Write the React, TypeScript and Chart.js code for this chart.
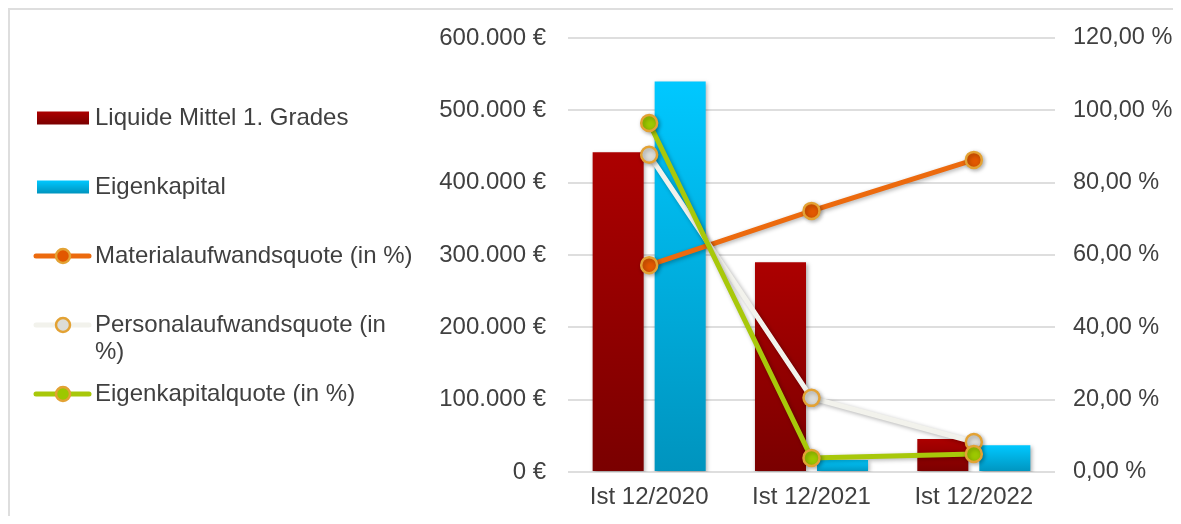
import React, { useEffect, useRef } from 'react';
import { Chart, registerables } from 'chart.js';

Chart.register(...registerables);

// ---- data ----
const categories = ['Ist 12/2020', 'Ist 12/2021', 'Ist 12/2022'];
const liquideMittel = [442000, 290000, 45500];
const eigenkapital = [540000, 16500, 37000];
const materialQuote = [57.2, 72.2, 86.3];
const personalQuote = [87.7, 20.5, 8.3];
const eigenkapitalQuote = [96.5, 3.9, 5.0];
const seriesLabels = [
  'Liquide Mittel 1. Grades',
  'Eigenkapital',
  'Materialaufwandsquote (in %)',
  'Personalaufwandsquote (in %)',
  'Eigenkapitalquote (in %)',
];
const leftTickValues = [0, 100000, 200000, 300000, 400000, 500000, 600000];
const rightTickValues = [0, 20, 40, 60, 80, 100, 120];

// ---- styles ----
const FONT = '"Liberation Sans", Arial, sans-serif';
const FS = 24;
const TEXT = '#404040';
const RED_TOP = '#AC0000';
const RED_BOT = '#7A0000';
const BLUE_TOP = '#00C8FF';
const BLUE_BOT = '#0094BE';
const ORANGE = '#EC6A0E';
const ORANGE_PT = '#E25800';
const WHITE = '#F2F2EC';
const WHITE_PT = '#DCDCD8';
const GREEN = '#A8C80A';
const GREEN_PT = '#9CC800';
const GOLD = '#E3A234';

const W = 1163;
const H = 506;

function fmtEuro(v: number): string {
  const s = Math.round(v).toString().replace(/\B(?=(\d{3})+(?!\d))/g, '.');
  return s + ' €';
}
function fmtPct(v: number): string {
  return v.toFixed(2).replace('.', ',') + ' %';
}

function barGradient(top: string, bottom: string) {
  return (ctx: any) => {
    const chart = ctx.chart;
    if (!chart.chartArea || ctx.type !== 'data') return top;
    const ys = chart.scales.y;
    const yTop = ys.getPixelForValue(ctx.raw);
    const yBot = ys.getPixelForValue(0);
    if (!isFinite(yTop) || !isFinite(yBot) || yBot - yTop < 1) return top;
    const g = chart.ctx.createLinearGradient(0, yTop, 0, yBot);
    g.addColorStop(0, top);
    g.addColorStop(1, bottom);
    return g;
  };
}

const shadowPlugin = {
  id: 'shadowPlugin',
  beforeDatasetDraw(chart: any) {
    const c = chart.ctx;
    c.save();
    c.shadowColor = 'rgba(0,0,0,0.30)';
    c.shadowBlur = 4;
    c.shadowOffsetX = 1.5;
    c.shadowOffsetY = 1.5;
  },
  afterDatasetDraw(chart: any) {
    chart.ctx.restore();
  },
};

const legendPlugin = {
  id: 'leftLegend',
  afterDraw(chart: any) {
    const c = chart.ctx;
    const startY = 108;
    const step = 69;
    const textX = 85;
    const maxW = 322;
    c.save();
    c.font = `${FS}px ${FONT}`;
    c.textBaseline = 'middle';
    c.textAlign = 'left';
    chart.data.datasets.forEach((ds: any, i: number) => {
      const y = startY + i * step;
      if (ds.type === 'bar') {
        const g = c.createLinearGradient(0, y - 6.5, 0, y + 6.5);
        g.addColorStop(0, ds._legendTop);
        g.addColorStop(1, ds._legendBot);
        c.fillStyle = g;
        c.fillRect(27, y - 6.5, 52, 13);
      } else {
        c.strokeStyle = ds.borderColor;
        c.lineWidth = 5;
        c.lineCap = 'round';
        c.beginPath();
        c.moveTo(26, y);
        c.lineTo(79, y);
        c.stroke();
        c.beginPath();
        c.arc(53, y, 7, 0, Math.PI * 2);
        c.fillStyle = ds.pointBackgroundColor;
        c.fill();
        c.lineWidth = 2.5;
        c.strokeStyle = ds.pointBorderColor;
        c.stroke();
      }
      c.fillStyle = TEXT;
      const words = String(ds.label).split(' ');
      const lines: string[] = [];
      let cur = '';
      for (const w of words) {
        const t = cur ? cur + ' ' + w : w;
        if (c.measureText(t).width > maxW && cur) {
          lines.push(cur);
          cur = w;
        } else cur = t;
      }
      if (cur) lines.push(cur);
      lines.forEach((ln, k) => c.fillText(ln, textX, y + k * 27));
    });
    c.restore();
  },
};

export default function App() {
  const ref = useRef<HTMLCanvasElement | null>(null);
  useEffect(() => {
    if (!ref.current) return;
    const lineDs = (label: string, data: number[], color: string, pt: string, order: number) => ({
      type: 'line' as const,
      label,
      data,
      yAxisID: 'y1',
      borderColor: color,
      backgroundColor: color,
      borderWidth: 5,
      pointRadius: 8,
      pointHoverRadius: 8,
      pointBackgroundColor: pt,
      pointBorderColor: GOLD,
      pointBorderWidth: 2.5,
      tension: 0,
      fill: false,
      order,
    });
    const chart = new Chart(ref.current, {
      data: {
        labels: categories,
        datasets: [
          {
            type: 'bar',
            label: seriesLabels[0],
            data: liquideMittel,
            yAxisID: 'y',
            backgroundColor: barGradient(RED_TOP, RED_BOT),
            categoryPercentage: 0.764,
            barPercentage: 0.823,
            order: 4,
            _legendTop: RED_TOP,
            _legendBot: RED_BOT,
          } as any,
          {
            type: 'bar',
            label: seriesLabels[1],
            data: eigenkapital,
            yAxisID: 'y',
            backgroundColor: barGradient(BLUE_TOP, BLUE_BOT),
            categoryPercentage: 0.764,
            barPercentage: 0.823,
            order: 5,
            _legendTop: BLUE_TOP,
            _legendBot: BLUE_BOT,
          } as any,
          lineDs(seriesLabels[2], materialQuote, ORANGE, ORANGE_PT, 3),
          lineDs(seriesLabels[3], personalQuote, WHITE, WHITE_PT, 2),
          lineDs(seriesLabels[4], eigenkapitalQuote, GREEN, GREEN_PT, 1),
        ],
      },
      options: {
        responsive: false,
        animation: false,
        layout: { padding: { top: 28, bottom: 0, left: 0, right: 0 } },
        plugins: {
          legend: { display: false },
          tooltip: { enabled: false },
        },
        scales: {
          x: {
            grid: { display: false, drawTicks: false },
            border: { display: false },
            afterFit: (s: any) => {
              s.height = 44;
            },
            ticks: { color: TEXT, font: { family: FONT, size: FS }, padding: 11, maxRotation: 0 },
          },
          y: {
            position: 'left',
            min: 0,
            max: 600000,
            afterBuildTicks: (s: any) => {
              s.ticks = leftTickValues.map((v) => ({ value: v }));
            },
            afterFit: (s: any) => {
              s.width = 558;
              s.paddingTop = 0;
              s.paddingBottom = 0;
            },
            grid: { color: '#DEDEDE', lineWidth: 2, drawTicks: false },
            border: { display: false },
            ticks: {
              color: TEXT,
              font: { family: FONT, size: FS },
              padding: 22,
              callback: (v: any) => fmtEuro(Number(v)),
            },
          },
          y1: {
            position: 'right',
            min: 0,
            max: 120,
            afterBuildTicks: (s: any) => {
              s.ticks = rightTickValues.map((v) => ({ value: v }));
            },
            afterFit: (s: any) => {
              s.width = W - 1045;
              s.paddingTop = 0;
              s.paddingBottom = 0;
            },
            grid: { display: false, drawTicks: false },
            border: { display: false },
            ticks: {
              color: TEXT,
              font: { family: FONT, size: 23.5 },
              padding: 18,
              callback: (v: any) => fmtPct(Number(v)),
            },
          },
        },
      },
      plugins: [shadowPlugin, legendPlugin],
    } as any);
    return () => chart.destroy();
  }, []);
  return (
    <div
      style={{
        borderTop: '2px solid #DEDEDE',
        borderLeft: '2px solid #DEDEDE',
        width: W,
        height: H,
        background: '#fff',
      }}
    >
      <canvas ref={ref} width={W} height={H} style={{ display: 'block' }} />
    </div>
  );
}
